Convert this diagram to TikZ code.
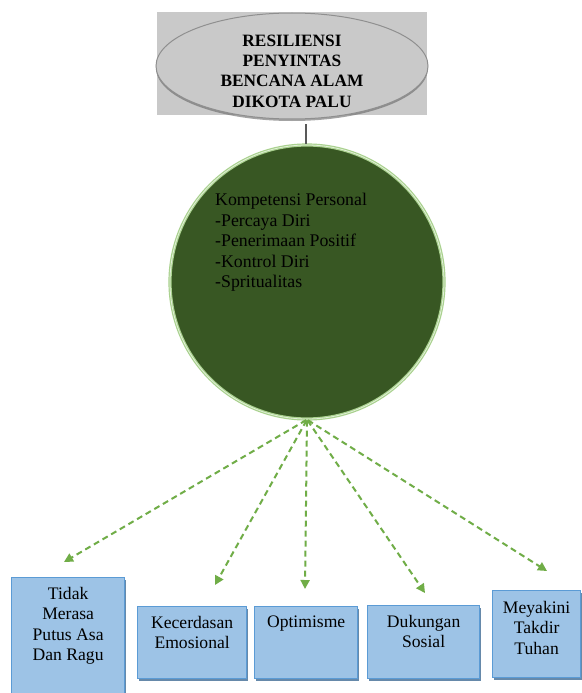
\documentclass[tikz,border=0pt]{standalone}
\usepackage{fontspec}
\setmainfont{Liberation Serif}
\usetikzlibrary{arrows.meta,shapes.geometric,shadows}
\definecolor{titlegray}{HTML}{C9C9C9}
\definecolor{ellborder}{HTML}{8F8F8F}
\definecolor{darkgreen}{HTML}{385723}
\definecolor{lightgreen}{HTML}{A9D18E}
\definecolor{paleg}{HTML}{E2F0D9}
\definecolor{arrowgreen}{HTML}{70AD47}
\definecolor{boxblue}{HTML}{9DC3E6}
\definecolor{boxborder}{HTML}{5B9BD5}
\definecolor{lineg}{HTML}{595959}
\tikzset{
  titlerect/.style={rectangle, fill=titlegray, draw=none, inner sep=0pt},
  titleell/.style={ellipse, fill=titlegray, draw=ellborder, line width=1pt, inner sep=0pt,
     drop shadow={shadow xshift=0pt, shadow yshift=-2pt, fill=black!60, opacity=0.6}},
  titletext/.style={align=center, font=\bfseries\fontsize{17.3}{20.3}\selectfont, inner sep=0pt},
  compcircle/.style={circle, fill=darkgreen, draw=lightgreen, double=paleg, double distance=0.8pt, line width=1.2pt, inner sep=0pt},
  comptext/.style={align=left, font=\fontsize{17.8}{20.5}\selectfont, inner sep=0pt, text=black},
  boxstyle/.style={rectangle, fill=boxblue, draw=boxborder, line width=1.3pt, inner sep=0pt,
     drop shadow={shadow xshift=1pt, shadow yshift=-2pt, fill=boxborder!70!black, opacity=0.8}},
  boxtext/.style={align=center, font=\fontsize{17.6}{20.5}\selectfont, inner sep=0pt},
  dasharrow/.style={draw=arrowgreen, line width=2pt, dash pattern=on 6pt off 4pt,
     -{Triangle[length=9pt,width=9pt,fill=arrowgreen]}, shorten <=1pt},
  topline/.style={draw=lineg, line width=1.3pt}
}
\begin{document}
\begin{tikzpicture}[x=1pt,y=-1pt]
\useasboundingbox[fill=white] (0,0) rectangle (581,693);

% title
\node[titlerect, minimum width=270pt, minimum height=103pt] (titlebox) at (292,63.5) {};
\node[titleell, minimum width=272pt, minimum height=106pt] (titleell) at (292,66) {};
\node[titletext] (titletext) at (292,71) {RESILIENSI\\PENYINTAS\\BENCANA ALAM\\DIKOTA PALU};

% circle
\node[compcircle, minimum size=274pt] (comp) at (307,282) {};
\node[comptext, anchor=north west] (comptxt) at (215,193)
  {Kompetensi Personal\\-Percaya Diri\\-Penerimaan Positif\\-Kontrol Diri\\-Spritualitas};

\coordinate (lt) at (306,124);
\draw[topline] (lt) -- (lt |- comp.north);

% boxes
\node[boxstyle, minimum width=113pt, minimum height=128pt, anchor=north west] (b1) at (11,577) {};
\node[boxstyle, minimum width=109pt, minimum height=72pt, anchor=north west] (b2) at (137,606) {};
\node[boxstyle, minimum width=103pt, minimum height=72pt, anchor=north west] (b3) at (254,606) {};
\node[boxstyle, minimum width=112pt, minimum height=73pt, anchor=north west] (b4) at (367,605) {};
\node[boxstyle, minimum width=88pt, minimum height=87pt, anchor=north west] (b5) at (492,590) {};

\node[boxtext, anchor=north] (t1) at ([yshift=-10pt]b1.north) {Tidak\\Merasa\\Putus Asa\\Dan Ragu};
\node[boxtext, anchor=north] (t2) at ([yshift=-10pt]b2.north) {Kecerdasan\\Emosional};
\node[boxtext, anchor=north] (t3) at ([yshift=-10pt]b3.north) {Optimisme};
\node[boxtext, anchor=north] (t4) at ([yshift=-10pt]b4.north) {Dukungan\\Sosial};
\node[boxtext, anchor=north] (t5) at ([yshift=-11pt]b5.north) {Meyakini\\Takdir\\Tuhan};

% arrows
\coordinate (e1) at (64,562);
\coordinate (e2) at (215,585);
\coordinate (e3) at (305,589);
\coordinate (e4) at (425,593);
\coordinate (e5) at (547,571);
\foreach \e in {e1,e2,e3,e4,e5}{
  \draw[dasharrow] (comp.south) -- (\e);
}
\end{tikzpicture}
\end{document}
